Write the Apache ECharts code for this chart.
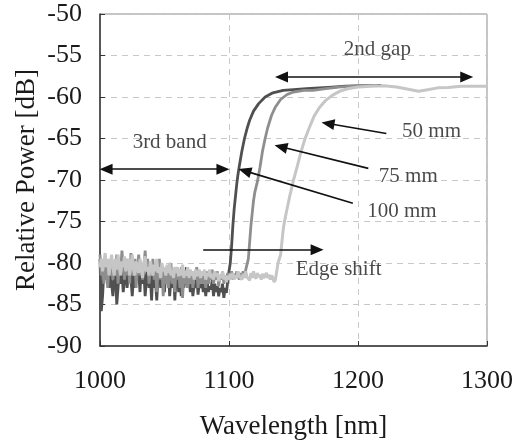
<!DOCTYPE html>
<html>
<head>
<meta charset="utf-8">
<script src="https://cdn.jsdelivr.net/npm/echarts@6/dist/echarts.min.js"></script>
<style>html,body{margin:0;padding:0;background:#fff}#c{width:518px;height:445px}</style>
</head>
<body>
<div id="c"></div>
<script>
// ---- data ----
const xTicks = [1000, 1100, 1200, 1300];
const yTicks = [-90, -85, -80, -75, -70, -65, -60, -55, -50];

// noisy floor, sampled every 1 nm starting at 1000 nm
const floor100 = [-79.5,-85.8,-84,-81,-80.5,-82,-80.5,-83,-81.5,-82.5,
  -84,-82,-81,-85,-83,-80.5,-82.5,-81,-83.5,-82,
  -80.5,-83,-81.5,-80,-82,-84,-81.5,-83,-80.5,-82,
  -81,-83.5,-80.5,-82.5,-81,-84,-82,-80.5,-83,-81.5,
  -84.5,-81,-83,-82,-84.5,-81.5,-80,-83,-82,-81,
  -83.5,-81,-82.5,-80.5,-84,-82,-83,-81,-84.5,-82,
  -81,-83.5,-82,-84,-81.5,-83,-82,-80.5,-83,-81.5,
  -83.5,-82,-84,-82.5,-83,-81.5,-83.8,-82.5,-83,-82,
  -83.5,-82.5,-84,-82,-83.5,-82.8,-83.2,-82,-84,-82.5,
  -83.5,-82.8,-84,-83,-83.5,-82.5,-84.2,-83,-83.6,-82.2,
  -81];
const floor75 = [-79,-81.5,-80,-82.5,-79.5,-81,-83,-80,-81.5,-79.5,
  -82,-80.5,-81.5,-79,-82.5,-80,-81,-78.5,-80.5,-82,
  -79.5,-81.5,-80,-82.5,-78.8,-80.5,-81.5,-79.5,-83,-80.5,
  -79,-81.5,-80,-82,-80.5,-78.5,-81,-79.5,-82.5,-80.5,
  -81.5,-79.5,-82,-80.5,-83.5,-81,-79.5,-82,-80.5,-84,
  -81,-82.5,-80.5,-83,-81.5,-80,-82.5,-81,-83.5,-80.5,
  -82,-81,-83,-80.5,-84.2,-81.5,-82.5,-80.8,-83,-81.5,
  -82.5,-81,-83,-81.5,-82,-80.5,-83,-81.5,-82.5,-81,
  -82.5,-81.5,-83,-81,-82.5,-81.5,-82,-80.8,-82.5,-81.5,
  -82,-81,-82.8,-81.5,-82,-81,-82.5,-81.5,-82,-81.2,
  -82,-81.5,-81,-82,-81.3,-81.8,-81,-81.6,-82,-81.2,
  -81.8,-81,-81.5,-80.8,-81];
const floor50 = [-80.5,-79.5,-81,-80,-78.8,-80.5,-79.5,-81.5,-80,-79,
  -80.5,-81.5,-79.5,-80.8,-79,-80.5,-81.5,-79.8,-80.5,-79.2,
  -81,-80,-79.5,-81.5,-80.2,-79,-80.8,-81.5,-79.8,-80.5,
  -81.2,-79.5,-80.5,-81.8,-80,-79.2,-81,-80.5,-81.5,-79.8,
  -80.5,-81.5,-80.2,-81,-79.5,-81.2,-80.5,-81.8,-80,-81,
  -80.5,-81.5,-80.2,-81.2,-80,-81.5,-80.8,-81.8,-80.5,-81.2,
  -80.5,-81.6,-80.8,-81.5,-80.2,-81.8,-81,-81.5,-80.5,-81.8,
  -80.8,-81.5,-81,-82,-80.8,-81.6,-81.2,-80.8,-81.8,-81,
  -81.5,-80.8,-82,-81.2,-81.6,-80.8,-81.8,-81.3,-82,-81,
  -81.6,-81.2,-82.2,-81.4,-81.8,-81,-82,-81.5,-82.3,-81.5,
  -82,-81.3,-81.8,-81.2,-82,-81.5,-81.8,-81,-81.6,-81.4,
  -82,-81.3,-81.8,-81,-81.7,-81.5,-82.1,-81.2,-81.8,-81,
  -81.6,-81.9,-81.2,-81.7,-81.4,-82,-81.3,-81.8,-81.5,-81.2,
  -81.8,-81.4,-82,-81.5,-81.8,-82.3,-82];

// band edge and plateau
const edgeX100 = [1101,1102,1103,1104,1105,1106,1107,1108,1110,1112,1114,1116,1119,1123,1128,1134,1142,1150,1160,1170,1180,1190,1200,1210,1218];
const edgeY100 = [-80,-78,-75.5,-73.5,-72,-70.5,-69.3,-68.3,-66.5,-65,-63.8,-62.8,-61.7,-60.8,-60,-59.5,-59.2,-59.1,-59.0,-58.9,-58.8,-58.7,-58.65,-58.6,-58.6];
const edgeX75 = [1115,1116,1117,1118,1119,1120,1122,1124,1126,1128,1130,1133,1136,1140,1145,1150,1158,1165,1175,1185,1195,1205,1215];
const edgeY75 = [-79.5,-77.5,-75.5,-74,-72.5,-71.5,-70.2,-68.5,-66.5,-65,-63.7,-62.2,-61.2,-60.3,-59.7,-59.4,-59.2,-59.2,-59,-58.8,-58.7,-58.6,-58.6];
const edgeX50 = [1137,1138,1140,1141,1142,1143,1145,1147,1150,1153,1156,1159,1162,1166,1170,1175,1180,1186,1192,1200,1210,1220,1230,1240,1247,1255,1262,1270,1280,1290,1300];
const edgeY50 = [-81,-80,-79,-77.5,-76,-75,-73.5,-72,-70,-68.3,-66.5,-65,-63.8,-62.3,-61.3,-60.4,-59.8,-59.3,-59,-58.8,-58.7,-58.65,-58.8,-59.1,-59.3,-59.1,-58.9,-58.85,-58.7,-58.7,-58.7];

// annotation arrows: [x1, y1, x2, y2, startHead, endHead]
const arrows = [
  [1140.7, -57.6, 1284.3, -57.6, true, true],
  [1004.7, -68.7, 1095.3, -68.7, true, true],
  [1080, -78.4, 1168.3, -78.4, false, true],
  [1222, -64.4, 1176.7, -63.2, false, true],
  [1208, -68.6, 1140.2, -66.0, false, true],
  [1196, -72.8, 1112.2, -68.9, false, true]
];
// annotation texts: [x, y, text]
const notes = [
  [1215, -54.3, '2nd gap'],
  [1054, -65.5, '3rd band'],
  [1185, -80.8, 'Edge shift'],
  [1257, -64.1, '50 mm'],
  [1239, -69.6, '75 mm'],
  [1234, -73.8, '100 mm']
];

const FLOOR_START = 1000;
const build = (floor, ex, ey) =>
  floor.map((y, i) => [FLOOR_START + i, y]).concat(ex.map((x, i) => [x, ey[i]]));
const FONT = '"Liberation Serif", "Times New Roman", serif';
const TXT = '#1a1a1a';

const chart = echarts.init(document.getElementById('c'), null, {renderer: 'canvas'});
chart.setOption({
  animation: false,
  grid: {left: 100, top: 14, right: 31, bottom: 98, show: true, borderColor: '#8a8a8a', borderWidth: 1, backgroundColor: 'transparent'},
  xAxis: {
    type: 'value', min: 1000, max: 1300, interval: 100,
    name: 'Wavelength [nm]', nameLocation: 'middle', nameGap: 67, nameMoveOverlap: false,
    nameTextStyle: {fontFamily: FONT, fontSize: 27, color: TXT},
    axisLine: {show: true, lineStyle: {color: '#333', width: 1.5}},
    axisTick: {show: true, inside: true, length: 5, lineStyle: {color: '#333'}},
    axisLabel: {fontFamily: FONT, fontSize: 26, color: TXT, margin: 22,
      formatter: v => xTicks.includes(v) ? String(v) : ''},
    splitLine: {show: true, lineStyle: {type: [6, 5], color: '#c8c8c8', width: 1}}
  },
  yAxis: {
    type: 'value', min: -90, max: -50, interval: 5,
    name: 'Relative Power [dB]', nameLocation: 'middle', nameGap: 60, nameRotate: 90, nameMoveOverlap: false,
    nameTextStyle: {fontFamily: FONT, fontSize: 27, color: TXT},
    axisLine: {show: true, lineStyle: {color: '#333', width: 1.5}},
    axisTick: {show: true, inside: true, length: 5, lineStyle: {color: '#333'}},
    axisLabel: {fontFamily: FONT, fontSize: 26, color: TXT, margin: 18,
      formatter: v => yTicks.includes(v) ? String(v) : ''},
    splitLine: {show: true, lineStyle: {type: [6, 5], color: '#c8c8c8', width: 1}}
  },
  series: [
    {name: '100 mm', type: 'line', data: build(floor100, edgeX100, edgeY100), showSymbol: false, symbol: 'none',
      lineStyle: {color: '#505050', width: 2.8}, z: 2},
    {name: '75 mm', type: 'line', data: build(floor75, edgeX75, edgeY75), showSymbol: false, symbol: 'none',
      lineStyle: {color: '#8e8e8e', width: 2.8}, z: 3},
    {name: '50 mm', type: 'line', data: build(floor50, edgeX50, edgeY50), showSymbol: false, symbol: 'none',
      lineStyle: {color: '#c6c6c6', width: 3}, z: 4},
    {name: 'annot', type: 'line', data: [], z: 5,
      markLine: {
        silent: true, animation: false,
        symbolSize: [11, 13],
        lineStyle: {color: '#111', width: 1.6, type: 'solid'},
        label: {show: false},
        data: arrows.map(a => [
          {coord: [a[0], a[1]], symbol: a[4] ? 'triangle' : 'none'},
          {coord: [a[2], a[3]], symbol: a[5] ? 'triangle' : 'none'}
        ])
      }
    },
    {name: 'notes', type: 'scatter', data: notes.map(n => ({value: [n[0], n[1]], name: n[2]})),
      symbolSize: 0, z: 6, silent: true,
      label: {show: true, position: 'inside', formatter: p => p.name,
        fontFamily: FONT, fontSize: 21, color: TXT}
    }
  ]
});
</script>
</body>
</html>
